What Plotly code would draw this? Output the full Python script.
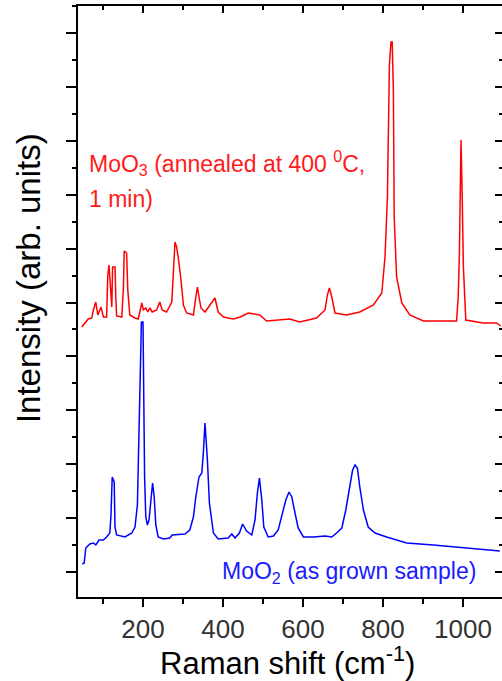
import plotly.graph_objects as go

# ---- data (intensity in arbitrary units) ----
red_shift = [47, 63, 72, 76, 82, 87, 95, 101, 109, 112, 115, 119, 122, 124, 130, 132, 134,
             147, 151, 153, 159, 162, 167, 180, 188, 192, 197, 201, 207, 212, 217, 223, 234,
             242, 248, 259, 272, 276, 280, 284, 288, 295, 301, 309, 326, 332, 336, 340, 345,
             355, 367, 380, 388, 401, 426, 443, 463, 492, 509, 567, 592, 634, 655, 661, 666,
             672, 680, 709, 742, 776, 797, 805, 811, 816, 820, 823, 826, 828, 834, 847, 867,
             901, 984, 988, 991, 995, 998, 1001, 1007, 1050, 1084, 1094]
red_int = [270, 278, 279, 287, 295, 282, 290, 280, 280, 322, 332, 300, 290, 330, 330, 300, 281,
           280, 309, 346, 344, 307, 282, 279, 278, 285, 294, 287, 289, 285, 289, 285, 287,
           295, 287, 285, 295, 325, 355, 350, 340, 317, 292, 284, 282, 300, 310, 300, 289,
           285, 292, 299, 285, 280, 278, 280, 284, 282, 276, 278, 275, 279, 287, 302, 309,
           300, 284, 282, 285, 292, 304, 340, 399, 532, 555, 555, 505, 380, 320, 294, 282,
           276, 276, 300, 344, 457, 400, 330, 277, 274, 274, 271]

blue_shift = [48, 53, 57, 67, 76, 82, 90, 101, 109, 117, 120, 123, 128, 130, 134, 155, 172,
              180, 186, 189, 194, 196, 200, 202, 204, 207, 211, 215, 220, 224, 228, 232, 238,
              251, 267, 273, 305, 317, 326, 332, 340, 347, 351, 355, 361, 366, 376, 388, 413,
              422, 430, 441, 449, 459, 472, 480, 486, 491, 497, 502, 513, 526, 538, 549, 557,
              565, 572, 580, 588, 601, 626, 655, 672, 684, 697, 707, 716, 724, 730, 736, 742,
              751, 763, 780, 809, 859, 926, 976, 1034, 1092]
blue_int = [33, 34, 49, 53, 54, 52, 57, 57, 60, 64, 82, 120, 115, 70, 62, 60, 64,
            70, 92, 154, 240, 275, 275, 177, 120, 80, 72, 77, 100, 114, 100, 72, 60,
            58, 59, 62, 63, 67, 80, 100, 120, 124, 145, 174, 137, 94, 64, 58, 59,
            63, 59, 64, 73, 66, 62, 77, 104, 119, 97, 70, 60, 61, 67, 84, 97,
            105, 100, 84, 69, 60, 60, 61, 60, 64, 69, 87, 110, 127, 132, 129, 110,
            87, 70, 64, 60, 54, 52, 50, 48, 46]

x_range = [37.5, 1097.5]
y_range = [0, 591]
x_tick_vals = [200, 400, 600, 800, 1000]
x_tick_text = ["200", "400", "600", "800", "1000"]

FONT = "Liberation Sans, Arial, sans-serif"

fig = go.Figure()
fig.add_trace(go.Scatter(x=red_shift, y=red_int, mode="lines",
                         line=dict(color="#ff0000", width=1.5), showlegend=False))
fig.add_trace(go.Scatter(x=blue_shift, y=blue_int, mode="lines",
                         line=dict(color="#0000ff", width=1.5), showlegend=False))
# transparent copy on the mirror axes so they are drawn
fig.add_trace(go.Scatter(x=blue_shift, y=blue_int, mode="lines", xaxis="x2", yaxis="y2",
                         line=dict(color="rgba(0,0,0,0)", width=0), showlegend=False,
                         hoverinfo="skip"))

axis_common = dict(showgrid=False, zeroline=False, automargin=False)

fig.update_layout(
    width=502, height=681,
    margin=dict(l=78, r=0, t=6, b=84, autoexpand=False),
    paper_bgcolor="white", plot_bgcolor="white",
    font=dict(family=FONT, color="#222"),
    xaxis=dict(range=x_range, tickvals=x_tick_vals, ticktext=x_tick_text,
               ticks="outside", ticklen=8, tickwidth=2, tickcolor="black",
               showline=True, linewidth=2, linecolor="black",
               tickfont=dict(size=26, color="#333", family=FONT),
               minor=dict(tick0=0, dtick=100, ticks="outside", ticklen=5,
                          tickwidth=2, tickcolor="black"),
               **axis_common),
    xaxis2=dict(range=x_range, overlaying="x", side="top", matches="x",
                tickvals=x_tick_vals, ticks="inside", ticklen=7, tickwidth=2,
                tickcolor="black", showticklabels=False,
                showline=True, linewidth=2, linecolor="black",
                minor=dict(tick0=0, dtick=100, ticks="inside", ticklen=4,
                           tickwidth=2, tickcolor="black"),
                **axis_common),
    yaxis=dict(range=y_range, tickmode="linear", tick0=25, dtick=53.9,
               ticks="outside", ticklen=10, tickwidth=2, tickcolor="black",
               showticklabels=False, showline=True, linewidth=2, linecolor="black",
               minor=dict(tick0=25, dtick=26.95, ticks="outside", ticklen=4,
                          tickwidth=2, tickcolor="black"),
               **axis_common),
    yaxis2=dict(range=y_range, overlaying="y", side="right", matches="y",
                tickmode="linear", tick0=25, dtick=53.9,
                ticks="inside", ticklen=7, tickwidth=2, tickcolor="black",
                showticklabels=False, showline=False,
                minor=dict(tick0=25, dtick=26.95, ticks="inside", ticklen=3,
                           tickwidth=2, tickcolor="black"),
                **axis_common),
)

annotations = [
    dict(text="MoO<sub>3</sub> (annealed at 400 <sup>0</sup>C,", x=60, y=434,
         xref="x", yref="y", xanchor="left", yanchor="middle", showarrow=False,
         font=dict(size=23, color="#ff1a1a", family=FONT)),
    dict(text="1 min)", x=60, y=398,
         xref="x", yref="y", xanchor="left", yanchor="middle", showarrow=False,
         font=dict(size=23, color="#ff1a1a", family=FONT)),
    dict(text="MoO<sub>2</sub> (as grown sample)", x=393, y=25,
         xref="x", yref="y", xanchor="left", yanchor="middle", showarrow=False,
         font=dict(size=23, color="#1a1aff", family=FONT)),
    dict(text="Raman shift (cm<sup>-1</sup>)", x=0.495, y=-0.109,
         xref="paper", yref="paper", xanchor="center", yanchor="middle",
         showarrow=False, font=dict(size=31, color="black", family=FONT)),
    dict(text="Intensity (arb. units)", x=-0.115, y=0.54, textangle=-90,
         xref="paper", yref="paper", xanchor="center", yanchor="middle",
         showarrow=False, font=dict(size=33, color="black", family=FONT)),
]
fig.update_layout(annotations=annotations)

fig.write_html("out.html",
               config={"displayModeBar": False},
               post_script="document.body.style.margin='0px';"
                           "document.body.style.overflow='hidden';")
